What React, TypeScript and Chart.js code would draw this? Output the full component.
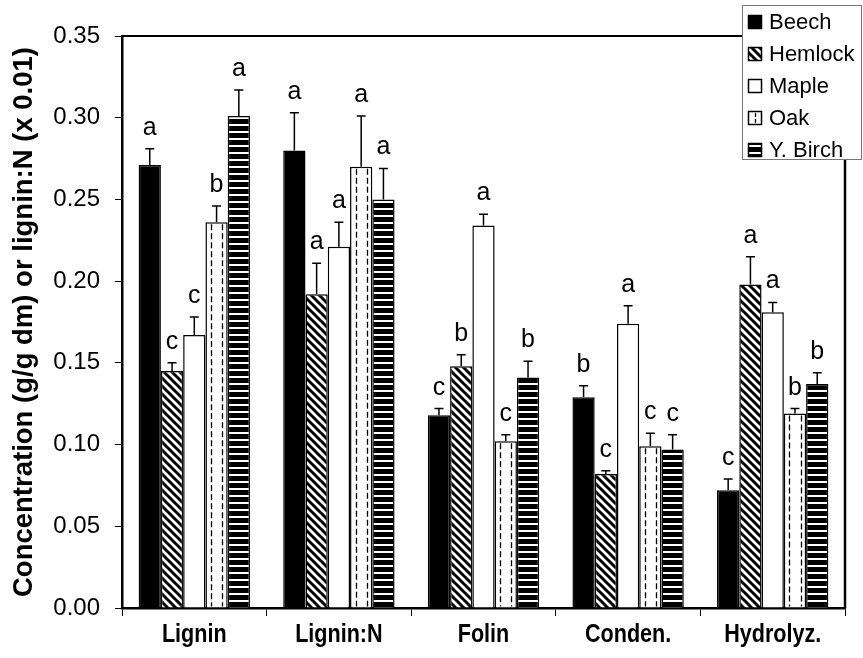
import React, { useEffect, useRef } from "react";
import { Chart, registerables } from "chart.js";
Chart.register(...registerables);

const categories = ["Lignin", "Lignin:N", "Folin", "Conden.", "Hydrolyz."];
const species = ["Beech", "Hemlock", "Maple", "Oak", "Y. Birch"];

const beech = [0.271, 0.280, 0.118, 0.129, 0.072];
const hemlock = [0.145, 0.192, 0.148, 0.082, 0.198];
const maple = [0.167, 0.221, 0.234, 0.174, 0.181];
const oak = [0.236, 0.270, 0.102, 0.099, 0.119];
const birch = [0.301, 0.250, 0.141, 0.097, 0.137];

const beechErr = [0.010, 0.023, 0.004, 0.007, 0.007];
const hemlockErr = [0.005, 0.019, 0.007, 0.002, 0.017];
const mapleErr = [0.011, 0.015, 0.007, 0.011, 0.006];
const oakErr = [0.010, 0.031, 0.004, 0.008, 0.003];
const birchErr = [0.016, 0.019, 0.010, 0.009, 0.007];

const beechLetters = ["a", "a", "c", "b", "c"];
const hemlockLetters = ["c", "a", "b", "c", "a"];
const mapleLetters = ["c", "a", "a", "a", "a"];
const oakLetters = ["b", "a", "c", "c", "b"];
const birchLetters = ["a", "a", "b", "c", "b"];

const yMin = 0;
const yMax = 0.35;
const yStep = 0.05;

const yTitle = "Concentration (g/g dm) or lignin:N (x 0.01)";
const FONT = "'Liberation Sans', Arial, Helvetica, sans-serif";

function hemlockPattern(ctx: CanvasRenderingContext2D) {
  const s = 8;
  const c = document.createElement("canvas");
  c.width = s;
  c.height = s;
  const g = c.getContext("2d")!;
  g.fillStyle = "#fff";
  g.fillRect(0, 0, s, s);
  g.strokeStyle = "#000";
  g.lineWidth = 3;
  for (let k = -1; k <= 1; k++) {
    g.beginPath();
    g.moveTo(k * s - 1, -1);
    g.lineTo(k * s + s + 1, s + 1);
    g.stroke();
  }
  return ctx.createPattern(c, "repeat")!;
}

function birchPattern(ctx: CanvasRenderingContext2D) {
  const c = document.createElement("canvas");
  c.width = 4;
  c.height = 7;
  const g = c.getContext("2d")!;
  g.fillStyle = "#000";
  g.fillRect(0, 0, 4, 7);
  g.fillStyle = "#fff";
  g.fillRect(0, 5, 4, 2);
  return ctx.createPattern(c, "repeat")!;
}

export default function App() {
  const ref = useRef<HTMLCanvasElement>(null);

  useEffect(() => {
    document.body.style.margin = "0";
    const canvas = ref.current!;
    const ctx = canvas.getContext("2d")!;
    const hp = hemlockPattern(ctx);
    const bp = birchPattern(ctx);

    const values = [beech, hemlock, maple, oak, birch];
    const errs = [beechErr, hemlockErr, mapleErr, oakErr, birchErr];
    const letters = [beechLetters, hemlockLetters, mapleLetters, oakLetters, birchLetters];
    const fills: (string | CanvasPattern)[] = ["#000", hp, "#fff", "#fff", bp];

    const yTickValues: number[] = [];
    for (let v = yMin; v <= yMax + 1e-9; v += yStep) yTickValues.push(+v.toFixed(2));

    const overlay = {
      id: "overlay",
      afterDatasetsDraw(chart: any) {
        const c = chart.ctx as CanvasRenderingContext2D;
        const ys = chart.scales.y;
        c.save();
        const oakMeta = chart.getDatasetMeta(3);
        oakMeta.data.forEach((el: any) => {
          const w = el.width;
          const x0 = el.x - w / 2;
          c.strokeStyle = "#000";
          c.lineWidth = 1.3;
          c.setLineDash([6, 3]);
          [0.25, 0.75].forEach((f) => {
            c.beginPath();
            c.moveTo(Math.round(x0 + f * w) + 0.5, el.y + 2);
            c.lineTo(Math.round(x0 + f * w) + 0.5, el.base - 1);
            c.stroke();
          });
          c.setLineDash([]);
        });
        values.forEach((vals, i) => {
          const meta = chart.getDatasetMeta(i);
          meta.data.forEach((el: any, j: number) => {
            const yTop = el.y;
            const yE = ys.getPixelForValue(vals[j] + errs[i][j]);
            c.strokeStyle = "#000";
            c.lineWidth = 1.5;
            c.beginPath();
            c.moveTo(el.x, yTop);
            c.lineTo(el.x, yE);
            c.moveTo(el.x - 4.5, yE);
            c.lineTo(el.x + 4.5, yE);
            c.stroke();
            c.fillStyle = "#000";
            c.font = `25px ${FONT}`;
            c.textAlign = "center";
            c.textBaseline = "alphabetic";
            c.fillText(letters[i][j], el.x, yE - 14);
          });
        });
        c.restore();
      },
      afterDraw(chart: any) {
        const c = chart.ctx as CanvasRenderingContext2D;
        const a = chart.chartArea;
        const xs = chart.scales.x;
        c.save();
        // condensed bold category labels
        c.fillStyle = "#000";
        c.font = `bold 26px ${FONT}`;
        c.textAlign = "center";
        c.textBaseline = "alphabetic";
        categories.forEach((lab, i) => {
          const x = xs.getPixelForValue(i);
          c.save();
          c.translate(x, a.bottom + 34);
          c.scale(0.83, 1);
          c.fillText(lab, 0, 0);
          c.restore();
        });

        c.strokeStyle = "#000";
        c.lineWidth = 2;
        c.beginPath();
        c.moveTo(a.left, a.top);
        c.lineTo(a.right, a.top);
        c.stroke();
        c.lineWidth = 2.5;
        c.beginPath();
        c.moveTo(a.right, a.top);
        c.lineTo(a.right, a.bottom);
        c.stroke();

        const lx = 742, ly = 5, lw = 120, lh = 155;
        c.fillStyle = "#fff";
        c.fillRect(lx, ly, lw, lh);
        c.strokeStyle = "#777";
        c.lineWidth = 1;
        c.strokeRect(lx + 0.5, ly + 0.5, lw - 1, lh - 1);
        const rowY = [22, 54, 86, 118, 150];
        species.forEach((name, i) => {
          const sx = 748, sy = rowY[i] - 7, ss = 14;
          c.fillStyle = fills[i] as any;
          c.fillRect(sx, sy, ss, ss);
          if (i === 3) {
            c.strokeStyle = "#000";
            c.lineWidth = 1.3;
            c.setLineDash([4, 2]);
            c.beginPath();
            c.moveTo(sx + 7.5, sy + 2);
            c.lineTo(sx + 7.5, sy + ss - 1);
            c.stroke();
            c.setLineDash([]);
          }
          c.strokeStyle = "#000";
          c.lineWidth = 1.5;
          c.strokeRect(sx + 0.5, sy + 0.5, ss - 1, ss - 1);
          c.fillStyle = "#000";
          c.font = `22px ${FONT}`;
          c.textAlign = "left";
          c.textBaseline = "middle";
          c.fillText(name, 769, rowY[i] + 1);
        });
        c.restore();
      },
    };

    const chart = new Chart(ctx, {
      type: "bar",
      data: {
        labels: categories,
        datasets: species.map((name, i) => ({
          label: name,
          data: values[i],
          backgroundColor: fills[i] as any,
          borderColor: "#000",
          borderWidth: 1.5,
          categoryPercentage: 0.77,
          barPercentage: 1.0,
        })),
      },
      options: {
        responsive: false,
        animation: false,
        devicePixelRatio: 1,
        layout: { padding: { top: 36, right: 18, left: 0, bottom: 0 } },
        plugins: {
          legend: { display: false },
          tooltip: { enabled: false },
        },
        scales: {
          x: {
            type: "category",
            offset: true,
            grid: {
              display: true,
              drawOnChartArea: false,
              drawTicks: true,
              tickLength: 8,
              offset: true,
              color: "#000",
              lineWidth: 1,
            },
            border: { display: true, color: "#000", width: 2.5 },
            ticks: { display: false },
            afterFit: (s: any) => {
              s.height = 50;
            },
          },
          y: {
            min: yMin,
            max: yMax,
            afterBuildTicks: (s: any) => {
              s.ticks = yTickValues.map((v) => ({ value: v }));
            },
            grid: {
              display: true,
              drawOnChartArea: false,
              drawTicks: true,
              tickLength: 7,
              color: "#000",
              lineWidth: 1,
            },
            border: { display: true, color: "#000", width: 2.5 },
            ticks: {
              color: "#000",
              font: { family: FONT, size: 24 },
              padding: 15,
              callback: (v: any) => Number(v).toFixed(2),
            },
            title: {
              display: true,
              text: yTitle,
              color: "#000",
              font: { family: FONT, size: 27.5, weight: "bold" },
              padding: { top: 8, bottom: 0 },
            },
            afterFit: (s: any) => {
              s.width = 122;
            },
          },
        },
      },
      plugins: [overlay],
    });
    return () => chart.destroy();
  }, []);

  return (
    <div style={{ width: 863, height: 658 }}>
      <canvas ref={ref} width={863} height={658} style={{ display: "block" }} />
    </div>
  );
}
